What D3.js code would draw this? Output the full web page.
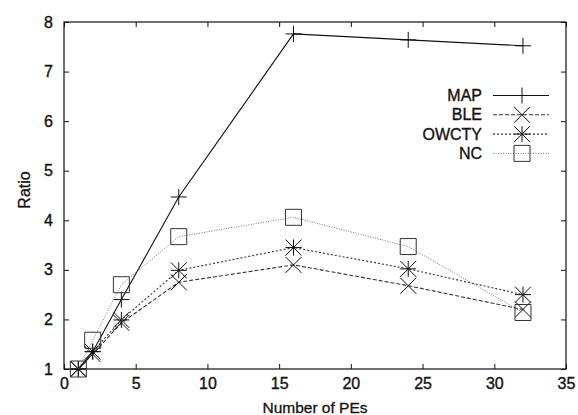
<!DOCTYPE html>
<html><head><meta charset="utf-8">
<script src="https://cdn.jsdelivr.net/npm/d3@7"></script>
<style>body{margin:0;background:#fff}svg{display:block}text{font-family:"Liberation Sans",Arial,sans-serif;fill:#111}</style>
</head><body><svg id="c" width="578" height="415"></svg>
<script>
const pes = [1, 2, 4, 8, 16, 24, 32];
const mapVals = [1, 1.35, 2.4, 4.47, 7.76, 7.64, 7.52];
const bleVals = [1, 1.3, 1.93, 2.75, 3.1, 2.68, 2.2];
const owctyVals = [1, 1.35, 1.99, 2.99, 3.45, 3.02, 2.5];
const ncVals = [1, 1.58, 2.7, 3.67, 4.06, 3.47, 2.14];
const seriesNames = ["MAP", "BLE", "OWCTY", "NC"];
const xTicks = [0, 5, 10, 15, 20, 25, 30, 35];
const yTicks = [1, 2, 3, 4, 5, 6, 7, 8];

const svg = d3.select("#c");
const L = 64, R = 566, T = 22, B = 369;
const x = d3.scaleLinear().domain([0, 35]).range([L, R]);
const y = d3.scaleLinear().domain([1, 8]).range([B, T]);
const FONT = '"Liberation Sans",Arial,sans-serif';

const series = [
  {vals: mapVals, dash: null, color: "#111", w: 1.1, marker: "plus"},
  {vals: bleVals, dash: "4,2", color: "#333", w: 1.1, marker: "x"},
  {vals: owctyVals, dash: "2,2", color: "#333", w: 1.1, marker: "star"},
  {vals: ncVals, dash: "1,1.5", color: "#777", w: 1, marker: "square"}
].map((s, i) => Object.assign(s, {name: seriesNames[i]}));

// frame
svg.append("rect").attr("x", L).attr("y", T).attr("width", R - L).attr("height", B - T)
  .attr("fill", "none").attr("stroke", "#111").attr("stroke-width", 1.2);

const fs = 16;
const gB = svg.append("g").attr("transform", `translate(0,${B})`)
  .call(d3.axisBottom(x).tickValues(xTicks).tickSize(-5).tickPadding(9).tickFormat(d3.format("d")));
const gT = svg.append("g").attr("transform", `translate(0,${T})`)
  .call(d3.axisTop(x).tickValues(xTicks).tickSize(-5).tickFormat(""));
const gL = svg.append("g").attr("transform", `translate(${L},0)`)
  .call(d3.axisLeft(y).tickValues(yTicks).tickSize(-5).tickPadding(11).tickFormat(d3.format("d")));
const gR = svg.append("g").attr("transform", `translate(${R},0)`)
  .call(d3.axisRight(y).tickValues(yTicks).tickSize(-5).tickFormat(""));
[gB, gT, gL, gR].forEach(g => {
  g.select(".domain").remove();
  g.selectAll("line").attr("stroke", "#111");
  g.selectAll("text").attr("font-size", fs).attr("font-family", FONT).attr("fill", "#111")
    .attr("stroke", "#111").attr("stroke-width", 0.35);
});

// axis labels
svg.append("text").attr("x", 315).attr("y", 413).attr("text-anchor", "middle").attr("font-size", 15.5)
  .attr("stroke", "#111").attr("stroke-width", 0.3).text("Number of PEs");
svg.append("text").attr("transform", "translate(30,190) rotate(-90)").attr("text-anchor", "middle").attr("font-size", 16)
  .attr("stroke", "#111").attr("stroke-width", 0.3).text("Ratio");

function drawMarker(g, type, cx, cy) {
  const s = 8;
  const p = d3.path();
  if (type === "plus") {
    p.moveTo(cx - s, cy); p.lineTo(cx + s, cy); p.moveTo(cx, cy - s); p.lineTo(cx, cy + s);
  } else if (type === "x") {
    p.moveTo(cx - s, cy - s); p.lineTo(cx + s, cy + s); p.moveTo(cx - s, cy + s); p.lineTo(cx + s, cy - s);
  } else if (type === "star") {
    p.moveTo(cx - s, cy); p.lineTo(cx + s, cy); p.moveTo(cx, cy - s); p.lineTo(cx, cy + s);
    p.moveTo(cx - s, cy - s); p.lineTo(cx + s, cy + s); p.moveTo(cx - s, cy + s); p.lineTo(cx + s, cy - s);
  } else {
    p.rect(cx - s, cy - s, 2 * s, 2 * s);
  }
  g.append("path").attr("d", p.toString()).attr("fill", "none").attr("stroke", type === "square" ? "#333" : "#111").attr("stroke-width", 1);
}

const line = d3.line().x(d => x(d[0])).y(d => y(d[1]));
series.forEach(s => {
  const pts = pes.map((p, i) => [p, s.vals[i]]);
  svg.append("path").attr("d", line(pts)).attr("fill", "none").attr("stroke", s.color)
    .attr("stroke-width", s.w).attr("stroke-dasharray", s.dash);
  const g = svg.append("g");
  pts.forEach(d => drawMarker(g, s.marker, x(d[0]), y(d[1])));
});

// legend
const lg = svg.append("g");
series.forEach((s, i) => {
  const ly = 95.5 + i * 19.3;
  lg.append("text").attr("x", 482).attr("y", ly + 5.5).attr("text-anchor", "end").attr("font-size", 16)
    .attr("stroke", "#111").attr("stroke-width", 0.35).text(s.name);
  lg.append("line").attr("x1", 493).attr("x2", 549).attr("y1", ly).attr("y2", ly)
    .attr("stroke", s.color).attr("stroke-width", s.w).attr("stroke-dasharray", s.dash);
  drawMarker(lg, s.marker, 522, ly);
});
</script></body></html>
